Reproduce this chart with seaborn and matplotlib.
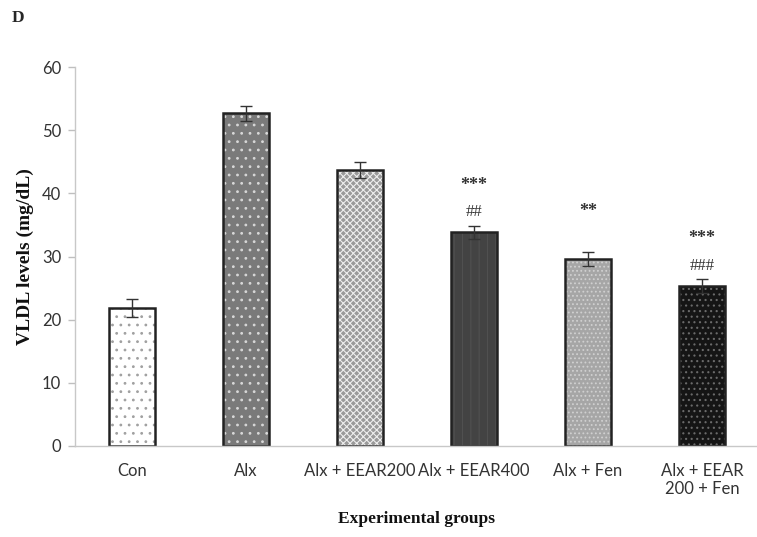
import matplotlib
matplotlib.use("Agg")
import matplotlib.pyplot as plt
import seaborn as sns
import pandas as pd
import numpy as np

groups = ["Con", "Alx", "Alx + EEAR200", "Alx + EEAR400", "Alx + Fen", "Alx + EEAR\n200 + Fen"]
vldl = [21.9, 52.7, 43.7, 33.8, 29.6, 25.3]
sem = [1.4, 1.2, 1.2, 1.1, 1.1, 1.1]
sig_star = ["", "", "", "***", "**", "***"]
sig_hash = ["", "", "", "##", "", "###"]
yticks = [0, 10, 20, 30, 40, 50, 60]

face_colors = ["#ffffff", "#7a7a7a", "#9a9a9a", "#434343", "#a6a6a6", "#151515"]
hatch_colors = ["#a0a0a0", "#d8d8d8", "#eeeeee", "#505050", "#d0d0d0", "#6a6a6a"]
hatches = ["..", "..", "xxxxx", "||", "....", "..."]

sns.set_theme(style="white")
plt.rcParams["font.family"] = ["Lato", "DejaVu Sans"]
plt.rcParams["hatch.linewidth"] = 0.8

df = pd.DataFrame({"group": groups, "vldl": vldl})

fig = plt.figure(figsize=(7.57, 5.37), dpi=100)
ax = fig.add_axes([75 / 757, 1 - 446 / 537, 684 / 757, (446 - 67) / 537])

# filled, hatched bars
sns.barplot(data=df, x="group", y="vldl", ax=ax, width=0.41, errorbar=None,
            palette=face_colors, hue="group", legend=False, linewidth=0)
for p, fc, hc, h in zip(ax.patches, face_colors, hatch_colors, hatches):
    p.set_facecolor(fc)
    p.set_edgecolor(hc)
    p.set_hatch(h)
    p.set_linewidth(0)

# outlines
sns.barplot(data=df, x="group", y="vldl", ax=ax, width=0.41, errorbar=None,
            fill=False, color="#222222", linewidth=1.8)

x = np.arange(len(groups))
ax.errorbar(x, vldl, yerr=sem, fmt="none", ecolor="#333333", elinewidth=1.0,
            capsize=4.5, capthick=1.0, zorder=5)

for i in range(len(groups)):
    if sig_star[i]:
        ax.text(i, vldl[i] + 7.5, sig_star[i], ha="center", va="center",
                fontsize=13, fontweight="bold", family="Liberation Serif", color="#333333")
    if sig_hash[i]:
        ax.text(i, vldl[i] + 3.2, sig_hash[i], ha="center", va="center",
                fontsize=12, family="Liberation Serif", color="#333333")

ax.set_ylim(0, 60)
ax.set_xlim(-0.5, 5.5)
ax.set_yticks(yticks)
ax.set_yticklabels([str(t) for t in yticks], fontsize=12, color="#333333")
ax.set_xticks(x)
ax.set_xticklabels(groups, fontsize=12, color="#333333")
ax.tick_params(axis="y", which="major", left=True, length=5, width=1, color="#bfbfbf", pad=5)
ax.tick_params(axis="x", bottom=False, pad=6)

for s in ["top", "right"]:
    ax.spines[s].set_visible(False)
for s in ["left", "bottom"]:
    ax.spines[s].set_color("#c8c8c8")
    ax.spines[s].set_linewidth(1.0)

ax.set_xlabel("Experimental groups", fontsize=12.5, fontweight="bold",
              family="Liberation Serif", labelpad=10, color="#111111")
ax.set_ylabel("VLDL levels (mg/dL)", fontsize=14, fontweight="bold",
              family="Liberation Serif", labelpad=6, color="#111111")

fig.text(12 / 757, 1 - 18 / 537, "D", fontsize=12.5, fontweight="bold",
         family="Liberation Serif", va="center", ha="left")

fig.savefig("out.png", dpi=100)
